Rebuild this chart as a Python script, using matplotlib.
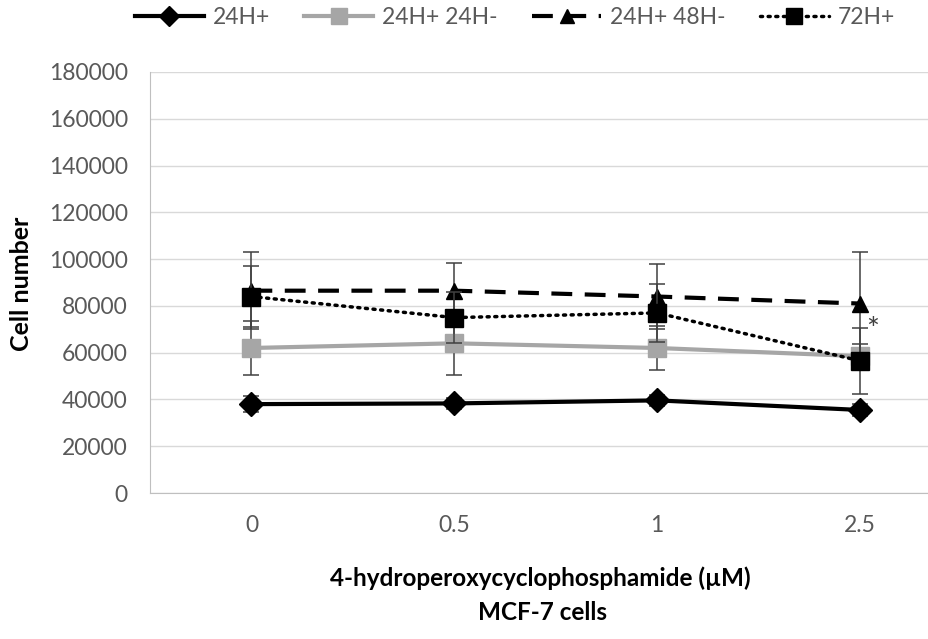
import numpy as np
import matplotlib.pyplot as plt

plt.rcParams['font.family'] = ['Lato', 'DejaVu Sans']

doses = ["0", "0.5", "1", "2.5"]
h24 = [38000, 38300, 39600, 35500]
h24_err = [3500, 2500, 2500, 2500]
h24_24 = [62000, 64000, 62000, 58500]
h24_24_err = [11500, 13500, 9400, 5000]
h24_48 = [86500, 86500, 84000, 81000]
h24_48_err = [16500, 12000, 14000, 22000]
h72 = [84000, 75000, 77000, 56500]
h72_err = [13000, 11000, 12500, 14000]

grey_txt = "#595959"
x = np.arange(len(doses))

fig = plt.figure(figsize=(9.29, 6.39), dpi=100)
ax = fig.add_axes([150 / 929, 1 - 493 / 639, (961.5 - 150) / 929, (493 - 72) / 639])

eb = dict(ecolor="#404040", elinewidth=1.1, capsize=6, capthick=1.1)
c1 = ax.errorbar(x, h24, yerr=h24_err, color="black", lw=3, marker="D", ms=12,
                 label="24H+", zorder=5, **eb)
c2 = ax.errorbar(x, h24_24, yerr=h24_24_err, color="#a6a6a6", lw=3, marker="s", ms=13,
                 label="24H+ 24H-", zorder=3, **eb)
c3 = ax.errorbar(x, h24_48, yerr=h24_48_err, color="black", lw=3, ls=(0, (5, 3)), marker="^",
                 ms=12, label="24H+ 48H-", zorder=4, **eb)
c4 = ax.errorbar(x, h72, yerr=h72_err, color="black", lw=2.5, ls=(0, (0.6, 1.6)), marker="s",
                 ms=13, label="72H+", zorder=6, dash_capstyle="round", **eb)

ax.text(3.06, 69500, "*", fontsize=22, color="#404040", ha="center", va="center")

ax.set_xlim(-0.5, 3.5)
ax.set_ylim(0, 180000)
ax.set_yticks(np.arange(0, 180001, 20000))
ax.set_xticks(x)
ax.set_xticklabels(doses)
ax.grid(axis="y", color="#d9d9d9", lw=1)
ax.set_axisbelow(True)
for s in ["top", "right"]:
    ax.spines[s].set_visible(False)
ax.spines["left"].set_color("#bfbfbf")
ax.spines["bottom"].set_color("#bfbfbf")
ax.tick_params(length=0, labelsize=16.5, labelcolor=grey_txt)
ax.tick_params(axis="y", pad=16)
ax.tick_params(axis="x", pad=16)

fig.text(22 / 929, 1 - 284 / 639, "Cell number", fontsize=18, rotation=90,
         fontweight="bold", ha="center", va="center")
fig.text(540 / 929, 1 - 578 / 639, "4-hydroperoxycyclophosphamide (\u00b5M)", fontsize=17.5,
         fontweight="bold", ha="center", va="center")
fig.text(542 / 929, 1 - 612 / 639, "MCF-7 cells", fontsize=17.5,
         fontweight="bold", ha="center", va="center")

handles = [c[0] for c in (c1, c2, c3, c4)]
labels = ["24H+", "24H+ 24H-", "24H+ 48H-", "72H+"]
fig.legend(handles, labels, ncol=4, loc="center", bbox_to_anchor=(515 / 929, 1 - 18 / 639),
           frameon=False, fontsize=16.5, labelcolor=grey_txt, handlelength=3.0,
           columnspacing=1.5, handletextpad=0.4, markerscale=0.85)

fig.savefig("out.png", dpi=100)
